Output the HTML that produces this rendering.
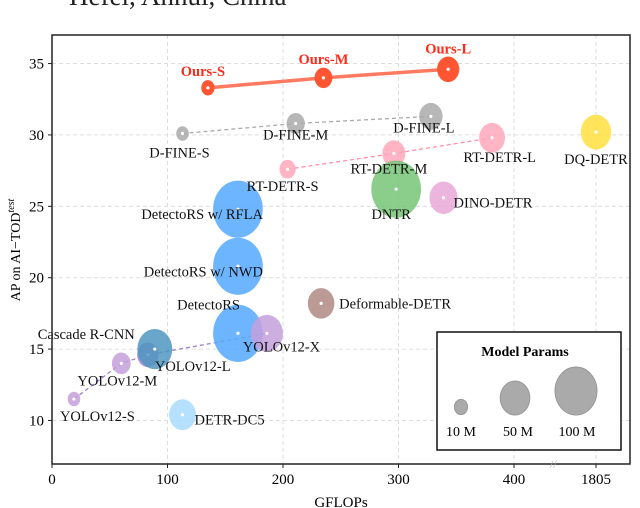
<!DOCTYPE html>
<html><head><meta charset="utf-8"><style>
body{margin:0;background:#fff}
svg{display:block;font-family:"Liberation Serif",serif}
</style></head><body>
<svg id="c" width="640" height="508">
<text x="69" y="5" font-size="27" fill="#222">Hefei, Anhui, China</text>
<g id="grid"></g><g id="lines"></g><g id="marks"></g><g id="labels"></g><g id="axes"></g>
<rect x="52" y="35" width="578" height="429" fill="none" stroke="#222" stroke-width="1.5"/>
<text x="550" y="468" font-size="12" fill="#bbb">//</text>
<text x="341" y="507" font-size="15" text-anchor="middle">GFLOPs</text>
<text transform="translate(20,250) rotate(-90)" font-size="14" text-anchor="middle">AP on AI−TOD<tspan font-size="10" dy="-6" font-style="italic">test</tspan></text>
<g>
<rect x="437" y="332" width="184" height="118" fill="#fff" stroke="#111" stroke-width="1.5"/>
<text x="525" y="356" font-size="14" font-weight="bold" text-anchor="middle">Model Params</text>
<ellipse cx="461" cy="407" rx="6.6" ry="7.6" fill="#aaa" stroke="#999"/>
<ellipse cx="515" cy="398" rx="14.8" ry="17" fill="#aaa" stroke="#999"/>
<ellipse cx="576" cy="391" rx="21" ry="24" fill="#aaa" stroke="#999"/>
<text x="461" y="436" font-size="14" text-anchor="middle">10 M</text>
<text x="518" y="436" font-size="14" text-anchor="middle">50 M</text>
<text x="577" y="436" font-size="14" text-anchor="middle">100 M</text>
</g>
</svg>
<script>
const names=["Ours-S","Ours-M","Ours-L","D-FINE-S","D-FINE-M","D-FINE-L","RT-DETR-S","RT-DETR-M","RT-DETR-L","DQ-DETR","DNTR","DINO-DETR","DetectoRS w/ RFLA","DetectoRS w/ NWD","DetectoRS","Deformable-DETR","YOLOv12-X","YOLOv12-L","YOLOv12-M","YOLOv12-S","Cascade R-CNN","DETR-DC5"];
const gflops=[135,235,343,113,211,328,204,296,381,1805,298,339,161,161,161,233,186,83,60,19,89,113];
const ap=[33.3,34.0,34.6,30.1,30.8,31.3,27.6,28.7,29.8,30.2,26.2,25.6,24.8,20.8,16.1,18.2,16.1,14.6,14.0,11.5,15.0,10.4];
const params=[10,18,28,9,19,31,15,30,38,52,140,45,140,140,140,40,59,26,20,9,69,41];
const xTicks=[0,100,200,300,400,1805];
const yTicks=[10,15,20,25,30,35];
const colors=["#ff5533","#ff5533","#ff5533","#aaaaaa","#aaaaaa","#aaaaaa","#ffa8b8","#ffa8b8","#ffa8b8","#ffdf40","#77c477","#e8a8d8","#55a8ff","#55a8ff","#55a8ff","#b08a84","#c4a0dc","#a080cc","#c4a0dc","#c4a0dc","#4f96c0","#a8dcff"];
const labelPos=[[-5,-12,"middle"],[0,-14,"middle"],[0,-16,"middle"],[-3,24,"middle"],[0,16,"middle"],[-7,16,"middle"],[-5,22,"middle"],[-5,20,"middle"],[-3,24,"end",1],[0,32,"middle"],[-5,30,"middle"],[10,10,"start"],[25,10,"end"],[25,10,"end"],[2,-24,"end"],[18,5,"start"],[-24,18,"start"],[7,16,"start"],[-4,22,"middle"],[-14,22,"start"],[-20,-10,"end"],[12,10,"start"]];
const L=52,R=630,T=35,B=464,YMIN=6.95,YMAX=37;
function X(v){return v>400?596:L+v*1.155}
function Y(v){return B-(v-YMIN)/(YMAX-YMIN)*(B-T)}
function rad(p){return 2.1*Math.sqrt(p)}
const NS="http://www.w3.org/2000/svg";
function mk(par,t,a){const e=document.createElementNS(NS,t);for(const k in a)e.setAttribute(k,a[k]);document.getElementById(par).appendChild(e);return e}
xTicks.forEach(v=>{const l=mk("grid","line",{x1:X(v),x2:X(v),y1:T,y2:B,stroke:"#ddd","stroke-dasharray":"4,3"});


const t=mk("axes","text",{x:X(v),y:B+20,"font-size":15,"text-anchor":"middle"});t.textContent=v;


mk("axes","line",{x1:X(v),x2:X(v),y1:B,y2:B+4,stroke:"#222"});});
yTicks.forEach(v=>{const l=mk("grid","line",{x1:L,x2:R,y1:Y(v),y2:Y(v),stroke:"#ddd","stroke-dasharray":"4,3"});


const t=mk("axes","text",{x:L-8,y:Y(v)+5,"font-size":15,"text-anchor":"end"});t.textContent=v;


mk("axes","line",{x1:L-4,x2:L,y1:Y(v),y2:Y(v),stroke:"#222"});});
function series(idx,st,w,dash,nm){const d=idx.map((i,k)=>(k?"L":"M")+X(gflops[i])+","+Y(ap[i])).join("");
const p=mk("lines","path",{d:d,stroke:st,"stroke-width":w,fill:"none","stroke-dasharray":dash});

}
series([0,1,2],"#ff7a60",3.5,"","ours-line");
series([3,4,5],"#aaa",1.3,"4,3","dfine-line");
series([6,7,8],"#ff90a8",1.3,"4,3","rtdetr-line");
series([19,18,17,16],"#a080d0",1.3,"4,3","yolo-line");
names.forEach((n,i)=>{const cx=X(gflops[i]),cy=Y(ap[i]),r=rad(params[i]);
const e=mk("marks","ellipse",{cx:cx,cy:cy,rx:r,ry:r*1.15,fill:colors[i],"fill-opacity":i<3?1:0.85});


mk("marks","circle",{cx:cx,cy:cy,r:1.6,fill:"#fff"});
const lp=labelPos[i];const t=mk("labels","text",{x:cx+lp[0],y:cy+lp[1],"font-size":14.5,"text-anchor":lp[2],fill:i<3?"#ff2a1a":"#111","font-weight":i<3?"bold":"normal"});
if(lp[3])t.setAttribute("x",cx+44);
t.textContent=n;

});
</script>
</body></html>
